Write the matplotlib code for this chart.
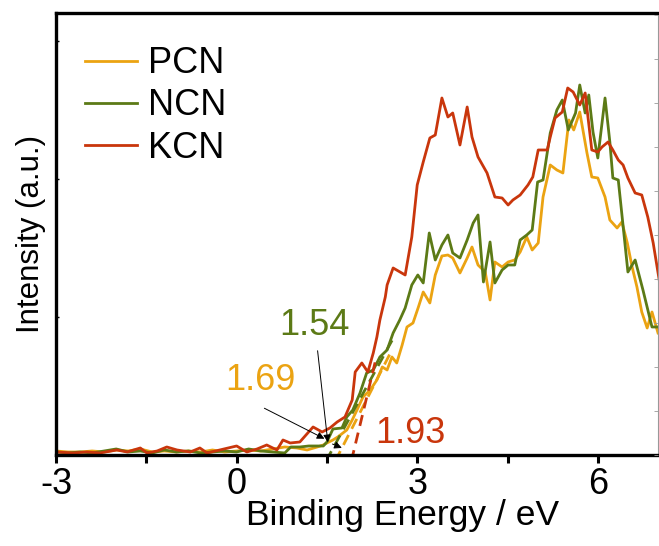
import matplotlib.pyplot as plt
import numpy as np

plt.rcParams['font.family'] = ['Liberation Sans', 'DejaVu Sans']

# PCN (orange)
pcn_x = [-3.0, -2.8, -2.6, -2.4, -2.2, -2.0, -1.8, -1.6, -1.4, -1.2, -1.0, -0.8, -0.6, -0.4, -0.2,
         0.0, 0.2, 0.4, 0.6, 0.8, 1.0, 1.17, 1.34, 1.44, 1.5, 1.6, 1.68, 1.83, 1.92, 2.0, 2.1, 2.22,
         2.33, 2.42, 2.5, 2.58, 2.66, 2.75, 2.83, 2.93, 3.02, 3.10, 3.21, 3.30, 3.41, 3.51, 3.59,
         3.71, 3.83, 3.91, 4.01, 4.13, 4.21, 4.29, 4.41, 4.51, 4.62, 4.71, 4.82, 4.91, 5.01, 5.09,
         5.21, 5.32, 5.42, 5.52, 5.60, 5.70, 5.82, 5.90, 6.00, 6.12, 6.20, 6.32, 6.40, 6.49, 6.57,
         6.65, 6.73, 6.82, 6.90, 7.0]
pcn_y = [4, 3, 3, 4, 3, 5, 4, 6, 3, 4, 3, 4, 3, 5, 3,
         4, 5, 4, 6, 8, 7, 5, 8, 10, 12, 15, 18, 25, 35, 45, 58, 65,
         75, 88, 85, 98, 92, 110, 128, 132, 148, 163, 152, 180, 199, 200, 197,
         182, 197, 208, 190, 183, 155, 193, 188, 193, 195, 203, 218, 205, 212, 258,
         290, 285, 282, 335, 325, 343, 302, 278, 277, 258, 235, 227, 233, 212, 188,
         168, 143, 127, 143, 122]

# NCN (green)
ncn_x = [-3.0, -2.8, -2.6, -2.4, -2.2, -2.0, -1.8, -1.6, -1.4, -1.2, -1.0, -0.8, -0.6, -0.4, -0.2,
         0.0, 0.2, 0.4, 0.6, 0.8, 0.9, 1.05, 1.2, 1.44, 1.5, 1.6, 1.75, 1.83, 1.93, 2.05, 2.16,
         2.27, 2.38, 2.5, 2.6, 2.71, 2.8, 2.91, 3.01, 3.10, 3.20, 3.30, 3.41, 3.51, 3.59, 3.71,
         3.83, 3.93, 4.01, 4.10, 4.21, 4.29, 4.41, 4.51, 4.62, 4.71, 4.82, 4.91, 5.00, 5.09, 5.21,
         5.32, 5.41, 5.51, 5.63, 5.70, 5.79, 5.85, 5.92, 6.00, 6.12, 6.20, 6.25, 6.34, 6.50, 6.62,
         6.75, 6.90, 7.0]
ncn_y = [3, 2, 3, 2, 4, 6, 3, 4, 2, 5, 3, 4, 2, 3, 4,
         3, 6, 4, 3, 2, 8, 8, 9, 9, 13, 26, 27, 38, 45, 62, 82,
         85, 98, 105, 122, 135, 147, 170, 180, 172, 222, 195, 210, 220, 202, 197,
         215, 232, 240, 173, 213, 172, 185, 190, 190, 215, 220, 225, 273, 275, 322,
         345, 355, 325, 342, 370, 342, 360, 323, 297, 357, 313, 277, 275, 183, 195,
         165, 128, 128]

# KCN (red)
kcn_x = [-3.0, -2.72, -2.49, -2.27, -1.99, -1.82, -1.60, -1.49, -1.32, -1.16, -0.99, -0.77, -0.61,
         -0.49, -0.28, 0.0, 0.17, 0.34, 0.5, 0.67, 0.77, 0.89, 1.05, 1.27, 1.42, 1.55, 1.67, 1.80,
         1.92, 1.97, 2.08, 2.18, 2.27, 2.33, 2.38, 2.47, 2.50, 2.60, 2.80, 2.91, 3.00, 3.10, 3.21,
         3.30, 3.41, 3.51, 3.59, 3.71, 3.83, 3.91, 4.01, 4.16, 4.29, 4.41, 4.51, 4.59, 4.71, 4.84,
         4.92, 5.01, 5.16, 5.21, 5.29, 5.41, 5.50, 5.59, 5.70, 5.79, 5.90, 6.00, 6.07, 6.17, 6.25,
         6.34, 6.42, 6.50, 6.62, 6.73, 6.83, 6.92, 7.02]
kcn_y = [3, 2, 3, 2, 5, 3, 7, 2, 4, 8, 5, 3, 7,
         2, 5, 9, 3, 6, 10, 5, 15, 12, 13, 28, 23, 27, 33, 38,
         55, 83, 92, 83, 102, 118, 135, 158, 170, 187, 180, 218, 270, 293, 317,
         320, 357, 338, 342, 310, 348, 318, 298, 282, 258, 257, 250, 255, 260, 270,
         278, 305, 305, 318, 337, 343, 367, 363, 350, 362, 305, 303, 308, 313, 305,
         295, 290, 277, 262, 260, 238, 212, 175]

names = ['PCN', 'NCN', 'KCN']
colors = ['#EBA312', '#5C7A16', '#C9360C']
onsets = [1.69, 1.54, 1.93]
slopes = [118, 110, 250]
tangent_top = [105, 115, 95]
xtick_vals = [-3, 0, 3, 6]
xtick_text = ['-3', '0', '3', '6']

fig = plt.figure(figsize=(6.59, 5.46), dpi=100)
ax = fig.add_axes([0.085, 0.1667, 0.9135, 0.8095])

series = [(pcn_x, pcn_y), (ncn_x, ncn_y), (kcn_x, kcn_y)]
for (x, y), name, c in zip(series, names, colors):
    ax.plot(x, y, color=c, lw=2, label=name)

# linear fits at the edge
for e0, s, top, c in zip(onsets, slopes, tangent_top, colors):
    hh = np.array([-6, top])
    ax.plot(e0 + hh / s, hh, color=c, lw=2, ls=(0, (4, 2.5)))

arrow = dict(arrowstyle='-|>', color='k', lw=0.7, mutation_scale=11)
ax.annotate('', xy=(1.52, 10), xytext=(1.34, 107), arrowprops=arrow)
ax.annotate('', xy=(1.50, 15), xytext=(0.42, 48), arrowprops=arrow)
ax.annotate('', xy=(1.79, 6), xytext=(1.55, 12), arrowprops=arrow)

ax.text(1.30, 120, '1.54', color=colors[1], fontsize=26, ha='center', va='baseline')
ax.text(0.39, 65, '1.69', color=colors[0], fontsize=26, ha='center', va='baseline')
ax.text(2.88, 12, '1.93', color=colors[2], fontsize=26, ha='center', va='baseline')

ax.set_xlim(-3, 7)
ax.set_ylim(0, 442)
ax.set_xticks(xtick_vals)
ax.set_xticklabels(xtick_text)
ax.set_xticks([-1.5, 1.5, 4.5], minor=True)
ax.set_yticks([0, 138, 276, 414])
ax.set_yticklabels([])
ax.tick_params(axis='x', which='both', direction='out', length=6, width=2.2, labelsize=26, pad=3)
ax.tick_params(axis='y', direction='in', length=2, width=1)

for side in ['left', 'bottom', 'top']:
    ax.spines[side].set_linewidth(2.4)
ax.spines['right'].set_linewidth(0.8)
ax.spines['right'].set_color('#999999')

ax2 = ax.twinx()
ax2.set_ylim(0, 442)
ax2.set_yticks(np.arange(0, 442, 44))
ax2.set_yticklabels([])
ax2.tick_params(axis='y', direction='in', length=3, width=0.6, color='#999999')
for side in ['left', 'bottom', 'top', 'right']:
    ax2.spines[side].set_visible(False)

ax.set_xlabel('Binding Energy / eV', fontsize=25.5)
ax.xaxis.set_label_coords(0.575, -0.1)
ax.set_ylabel('Intensity (a.u.)', fontsize=22.5, labelpad=4)

ax.legend(loc='upper left', bbox_to_anchor=(0.048, 0.925), frameon=False, fontsize=26,
          handlelength=1.45, handletextpad=0.3, labelspacing=0.2, borderaxespad=0, borderpad=0)

fig.savefig('out.png', dpi=100)
